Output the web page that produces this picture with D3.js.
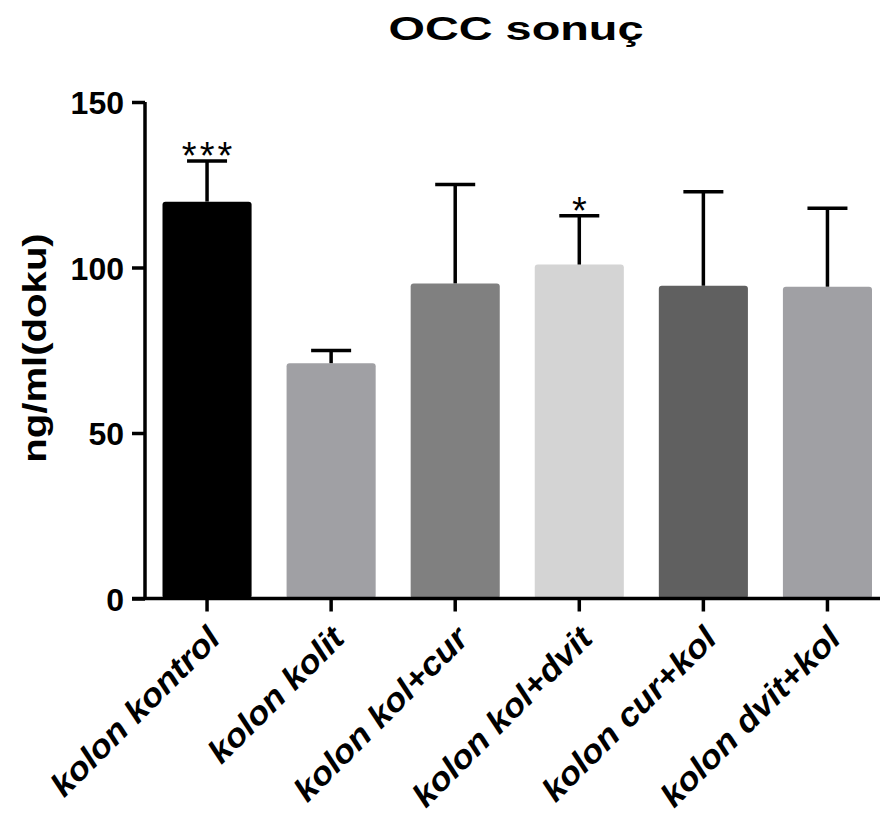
<!DOCTYPE html>
<html>
<head>
<meta charset="utf-8">
<script src="https://cdn.jsdelivr.net/npm/d3@7"></script>
<style>
  html, body { margin: 0; padding: 0; background: #fff; }
  svg { display: block; font-family: "Liberation Sans", Arial, sans-serif; }
</style>
</head>
<body>
<svg id="chart" width="880" height="825"></svg>
<script>
// Group names, means, upper error (mean + SD) and significance marks
const categories = ["kolon kontrol", "kolon kolit", "kolon kol+cur", "kolon kol+dvit", "kolon cur+kol", "kolon dvit+kol"];
const means = [119.9, 71.1, 95.2, 100.9, 94.5, 94.2];
const upperErr = [132.2, 74.9, 125.1, 115.6, 122.9, 117.9];
const stars = ["***", "", "", "*", "", ""];
const barColors = ["#000000", "#a0a0a4", "#808080", "#d4d4d4", "#606060", "#a0a0a4"];
const yTicks = [0, 50, 100, 150];

const svg = d3.select("#chart");

const axisX0 = 145, axisX1 = 880;
const yBase = 598.5, yTop = 102;

const y = d3.scaleLinear().domain([0, 150]).range([yBase, yTop]);
const x = d3.scaleBand().domain(categories)
  .range([162.5, 872]).paddingInner(0.282).paddingOuter(0);

// Title (wide bold lettering)
svg.append("text")
  .attr("transform", "translate(516,40) scale(1.42,1)")
  .attr("text-anchor", "middle")
  .attr("font-size", 33).attr("font-weight", "bold")
  .text("OCC sonuç");

// Bars
const bw = x.bandwidth();
svg.append("g").selectAll("rect").data(categories).join("rect")
  .attr("x", d => x(d))
  .attr("y", (d, i) => y(means[i]))
  .attr("width", bw)
  .attr("height", (d, i) => yBase - y(means[i]))
  .attr("rx", 3).attr("ry", 3)
  .attr("fill", (d, i) => barColors[i]);

// Upper error bars
const eg = svg.append("g").attr("stroke", "#000").attr("stroke-width", 3.5);
categories.forEach((d, i) => {
  const cx = x(d) + bw / 2;
  eg.append("line")
    .attr("x1", cx).attr("x2", cx)
    .attr("y1", y(means[i])).attr("y2", y(upperErr[i]));
  eg.append("line")
    .attr("x1", cx - 20).attr("x2", cx + 20)
    .attr("y1", y(upperErr[i])).attr("y2", y(upperErr[i]));
});

// Significance marks
svg.append("g").selectAll("text").data(categories).join("text")
  .attr("x", d => x(d) + bw / 2 + 1.5)
  .attr("y", (d, i) => y(upperErr[i]) + 8)
  .attr("text-anchor", "middle")
  .attr("font-size", 38)
  .attr("letter-spacing", 3)
  .text((d, i) => stars[i]);

// Y axis
const yAxis = svg.append("g").attr("transform", `translate(${axisX0},0)`)
  .call(d3.axisLeft(y).tickValues(yTicks).tickSize(13).tickPadding(8));
yAxis.select(".domain").attr("d", `M0,${yTop}V${yBase}`).attr("stroke-width", 3.5);
yAxis.selectAll(".tick line").attr("stroke-width", 3.5);
yAxis.selectAll(".tick text")
  .attr("font-size", 32).attr("font-weight", "bold")
  .attr("font-family", "Liberation Sans, Arial, sans-serif")
  .attr("fill", "#000").attr("dy", "0.36em");

// X axis
const xAxis = svg.append("g").attr("transform", `translate(0,${yBase})`)
  .call(d3.axisBottom(x).tickSize(13).tickFormat(""));
xAxis.select(".domain").attr("d", `M${axisX0 - 13},0H${axisX1}`).attr("stroke-width", 3.5);
xAxis.selectAll(".tick line").attr("stroke-width", 3.5);

// Rotated category labels
svg.append("g").selectAll("text").data(categories).join("text")
  .attr("transform", d => `translate(${x(d) + bw / 2 + 15},${yBase + 42}) rotate(-45) scale(1.07,1)`)
  .attr("text-anchor", "end")
  .attr("font-size", 33).attr("font-weight", "bold").attr("font-style", "italic")
  .text(d => d);

// Y axis title
svg.append("text")
  .attr("transform", `translate(46,348) rotate(-90) scale(1.18,1)`)
  .attr("text-anchor", "middle")
  .attr("font-size", 34).attr("font-weight", "bold")
  .text("ng/ml(doku)");
</script>
</body>
</html>
